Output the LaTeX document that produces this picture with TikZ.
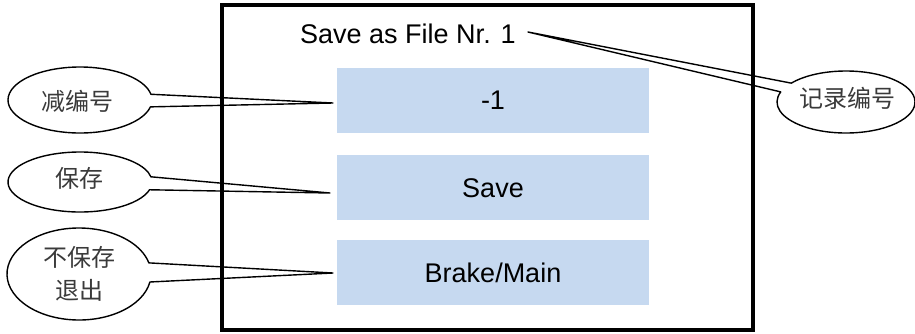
\documentclass[tikz,border=0pt]{standalone}
\usepackage{fontspec}
\setmainfont{Liberation Sans}
\newfontfamily\cjkfont{Noto Sans CJK SC}
\definecolor{panelblue}{HTML}{C6D9F0}
\definecolor{notegray}{HTML}{3A3A3A}

% speech bubble: centre x, centre y, x radius, y radius, start angle, end angle, tip
\newcommand\speechbubble[7]{%
  \draw[bubble] (#1,#2) ++(#5:#3 and #4)
    arc[start angle=#5, end angle=#6, x radius=#3, y radius=#4] -- (#7) -- cycle;}

\begin{document}
\begin{tikzpicture}[x=1pt, y=-1pt,
  menubox/.style={fill=panelblue, draw=none, minimum width=312pt, minimum height=65pt,
    inner sep=0pt, text height=19.3pt, text depth=0pt,
    font=\fontsize{27}{32}\selectfont},
  bubble/.style={draw=black, line width=1.4pt, line join=round},
  bubbletext/.style={font=\cjkfont\fontsize{24}{33}\selectfont, text=notegray,
    align=center, inner sep=0pt},
  frame/.style={draw=black, line width=3.5pt, inner sep=0pt}]

\useasboundingbox (0,0) rectangle (915,333);

% menu entries
\node[menubox] (minus) at (493,100)   {-1};
\node[menubox] (save)  at (493,187.5) {Save};
\node[menubox] (quit)  at (493,272.5) {Brake/Main};

% heading line
\node[anchor=base, inner sep=0pt, font=\fontsize{27}{32}\selectfont] (title) at (408,43) {Save as File Nr. 1};

% tips of the callout tails
\coordinate (tipminus) at (333,103);
\coordinate (tipsave)  at (330,193);
\coordinate (tipquit)  at (333,273);
\coordinate (tiptitle) at (528,32);

% callouts
\speechbubble{80}{100}{72}{33}{12}{350}{tipminus}
\speechbubble{80}{182}{72}{30}{15}{350}{tipsave}
\speechbubble{79}{274}{72}{46}{10}{346}{tipquit}
\speechbubble{846}{102}{69}{31}{217.5}{559}{tiptitle}

\node[bubbletext] (nminus) at (77.5,101) {减编号};
\node[bubbletext] (nsave)  at (79.5,178) {保存};
\node[bubbletext] (nquit)  at (79,273.5) {不保存\\退出};
\node[bubbletext] (ntitle) at (847.5,98) {记录编号};

% outer panel
\node[frame, minimum width=531pt, minimum height=325pt] (panel) at (487.5,167.5) {};
\end{tikzpicture}
\end{document}
